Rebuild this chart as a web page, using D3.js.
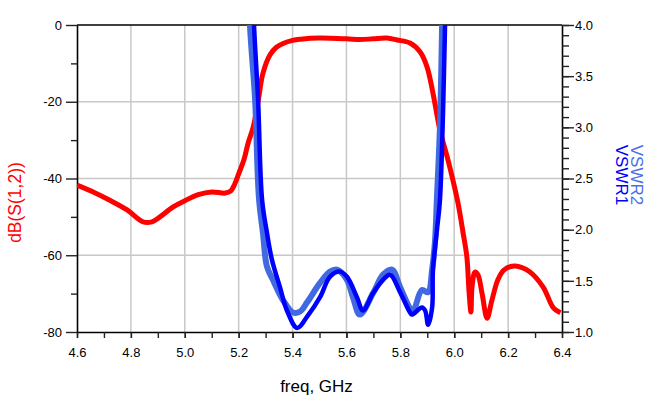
<!DOCTYPE html>
<html>
<head>
<meta charset="utf-8">
<script src="https://cdn.jsdelivr.net/npm/d3@7"></script>
<style>
  body { margin: 0; background: #fff; }
  svg { font-family: "Liberation Sans", Arial, sans-serif; }
</style>
</head>
<body>
<div id="chart"></div>
<script>
// dB(S(1,2))
var s12Freq = [4.60, 4.66, 4.72, 4.786, 4.845, 4.878, 4.908, 4.957, 5.00, 5.05, 5.10, 5.15, 5.17, 5.185, 5.20, 5.22, 5.235, 5.254, 5.273, 5.29, 5.316, 5.34, 5.365, 5.40, 5.43, 5.50, 5.60, 5.65, 5.70, 5.75, 5.788, 5.836, 5.873, 5.899, 5.921, 5.947, 5.977, 5.995, 6.014, 6.033, 6.047, 6.055, 6.062, 6.066, 6.077, 6.088, 6.103, 6.122, 6.14, 6.162, 6.185, 6.226, 6.28, 6.33, 6.368, 6.394];
var s12dB = [-41.7, -43.5, -45.6, -48.2, -51.3, -51.3, -50.0, -47.4, -45.8, -44.2, -43.5, -43.8, -43.3, -41.5, -38.8, -35.0, -30.8, -26.6, -19.5, -12.6, -7.8, -5.8, -4.8, -4.0, -3.7, -3.4, -3.6, -3.8, -3.6, -3.4, -3.9, -4.7, -7.0, -10.9, -17.7, -27.4, -35.2, -40.4, -46.4, -54.2, -60.5, -69.5, -74.8, -68.3, -64.4, -65.1, -69.8, -76.4, -71.7, -66.4, -63.8, -62.8, -64.3, -68.3, -73.7, -75.0];

// VSWR1
var vswr1Freq = [5.245, 5.257, 5.272, 5.287, 5.305, 5.324, 5.353, 5.379, 5.417, 5.454, 5.502, 5.539, 5.576, 5.602, 5.639, 5.661, 5.699, 5.736, 5.762, 5.799, 5.836, 5.843, 5.880, 5.892, 5.903, 5.918, 5.921, 5.936, 5.947, 5.966, 5.972];
var vswr1 = [5.0, 4.00, 3.27, 2.29, 1.97, 1.70, 1.44, 1.21, 1.04, 1.15, 1.34, 1.54, 1.59, 1.54, 1.34, 1.21, 1.38, 1.51, 1.56, 1.39, 1.19, 1.17, 1.24, 1.21, 1.07, 1.24, 1.60, 2.00, 2.29, 4.00, 5.0];

// VSWR2
var vswr2Freq = [5.232, 5.242, 5.261, 5.275, 5.290, 5.305, 5.327, 5.365, 5.402, 5.428, 5.454, 5.502, 5.539, 5.565, 5.602, 5.624, 5.650, 5.699, 5.736, 5.769, 5.799, 5.836, 5.847, 5.880, 5.903, 5.918, 5.929, 5.936, 5.947, 5.955, 5.960];
var vswr2 = [5.0, 4.00, 3.27, 2.32, 1.97, 1.64, 1.51, 1.31, 1.19, 1.20, 1.29, 1.48, 1.59, 1.61, 1.51, 1.34, 1.17, 1.38, 1.56, 1.61, 1.44, 1.23, 1.20, 1.41, 1.39, 1.61, 1.90, 2.32, 3.00, 4.00, 5.0];

var freqTicks = [4.6, 4.8, 5.0, 5.2, 5.4, 5.6, 5.8, 6.0, 6.2, 6.4];
var dBTicks = [0, -20, -40, -60, -80];
var vswrTicks = [4.0, 3.5, 3.0, 2.5, 2.0, 1.5, 1.0];

var margin = {top: 25, right: 97, bottom: 68, left: 77},
    width = 659 - margin.left - margin.right,
    height = 400 - margin.top - margin.bottom;

var svg = d3.select("#chart")
  .append("svg")
    .attr("width", 659)
    .attr("height", 400)
  .append("g")
    .attr("transform", "translate(" + margin.left + "," + margin.top + ")");

var x = d3.scaleLinear().domain([4.6, 6.4]).range([0, width]);
var yL = d3.scaleLinear().domain([-80, 0]).range([height, 0]);
var yR = d3.scaleLinear().domain([1, 4]).range([height, 0]);

// grid
svg.append("g")
  .selectAll("line.vg")
  .data(freqTicks.slice(1, -1))
  .enter().append("line")
    .attr("x1", function(d) { return x(d); })
    .attr("x2", function(d) { return x(d); })
    .attr("y1", 0).attr("y2", height)
    .attr("stroke", "#c8c8c8").attr("stroke-width", 1.5);
svg.append("g")
  .selectAll("line.hg")
  .data(dBTicks.slice(1, -1))
  .enter().append("line")
    .attr("x1", 0).attr("x2", width)
    .attr("y1", function(d) { return yL(d); })
    .attr("y2", function(d) { return yL(d); })
    .attr("stroke", "#c8c8c8").attr("stroke-width", 1.5);

// axes
function styleAxis(g) {
  g.select(".domain").attr("stroke", "#000").attr("stroke-width", 1.6);
  g.selectAll(".tick line").attr("stroke", "#222").attr("stroke-width", 1.4);
  g.selectAll(".tick text").attr("fill", "#000").style("font-size", "13px")
    .style("font-family", '"Liberation Sans", Arial, sans-serif');
}

// bottom: minor every 0.1
svg.append("g")
  .attr("transform", "translate(0," + height + ")")
  .call(d3.axisBottom(x).tickValues(d3.range(4.6, 6.45, 0.1)).tickSize(6).tickSizeOuter(0).tickFormat(""))
  .call(styleAxis);
svg.append("g")
  .attr("transform", "translate(0," + height + ")")
  .call(d3.axisBottom(x).tickValues(freqTicks).tickSize(6).tickPadding(10).tickSizeOuter(0).tickFormat(function(d) { return d.toFixed(1); }))
  .call(styleAxis)
  .call(function(g) { g.select(".domain").remove(); });

// left
svg.append("g")
  .call(d3.axisLeft(yL).tickValues([-70, -50, -30, -10]).tickSize(6).tickSizeOuter(0).tickFormat(""))
  .call(styleAxis);
svg.append("g")
  .call(d3.axisLeft(yL).tickValues(dBTicks).tickSize(11).tickPadding(4).tickSizeOuter(0).tickFormat(function(d) { return String(d); }))
  .call(styleAxis)
  .call(function(g) { g.select(".domain").remove(); });

// right
svg.append("g")
  .attr("transform", "translate(" + width + ",0)")
  .call(d3.axisRight(yR).tickValues(d3.range(1, 4.05, 0.1)).tickSize(7).tickSizeOuter(0).tickFormat(""))
  .call(styleAxis);
svg.append("g")
  .attr("transform", "translate(" + width + ",0)")
  .call(d3.axisRight(yR).tickValues(vswrTicks).tickSize(12).tickPadding(1).tickSizeOuter(0).tickFormat(function(d) { return d.toFixed(1); }))
  .call(styleAxis)
  .call(function(g) { g.select(".domain").remove(); });

// top border
svg.append("line")
  .attr("x1", 0).attr("x2", width).attr("y1", 0).attr("y2", 0)
  .attr("stroke", "#000").attr("stroke-width", 1.6);

// curves
svg.append("clipPath").attr("id", "plotclip")
  .append("rect").attr("x", 0).attr("y", 0).attr("width", width).attr("height", height);

var plot = svg.append("g").attr("clip-path", "url(#plotclip)");

var lineL = d3.line()
  .x(function(d) { return x(d[0]); })
  .y(function(d) { return yL(d[1]); })
  .curve(d3.curveCatmullRom.alpha(0.5));
var lineR = d3.line()
  .x(function(d) { return x(d[0]); })
  .y(function(d) { return yR(d[1]); })
  .curve(d3.curveCatmullRom.alpha(0.5));

plot.append("path")
  .datum(d3.zip(s12Freq, s12dB))
  .attr("d", lineL)
  .attr("fill", "none").attr("stroke", "#ff0000").attr("stroke-width", 5)
  .attr("stroke-linejoin", "round");
plot.append("path")
  .datum(d3.zip(vswr2Freq, vswr2))
  .attr("d", lineR)
  .attr("fill", "none").attr("stroke", "#4169e1").attr("stroke-width", 6)
  .attr("stroke-linejoin", "round");
plot.append("path")
  .datum(d3.zip(vswr1Freq, vswr1))
  .attr("d", lineR)
  .attr("fill", "none").attr("stroke", "#0000ff").attr("stroke-width", 4.5)
  .attr("stroke-linejoin", "round");

// labels
svg.append("text")
  .attr("x", width / 2 - 3)
  .attr("y", height + 60)
  .attr("text-anchor", "middle")
  .style("font-size", "17px")
  .text("freq, GHz");

svg.append("text")
  .attr("transform", "translate(" + (21 - margin.left) + "," + (height / 2 + 24) + ") rotate(-90)")
  .attr("text-anchor", "middle")
  .attr("fill", "#ff0000")
  .style("font-size", "17.5px")
  .text("dB(S(1,2))");

svg.append("text")
  .attr("transform", "translate(" + (616 - margin.left) + "," + (175 - margin.top) + ") rotate(90)")
  .attr("text-anchor", "middle")
  .attr("fill", "#0000ff")
  .style("font-size", "17px")
  .text("VSWR1");
svg.append("text")
  .attr("transform", "translate(" + (631 - margin.left) + "," + (175 - margin.top) + ") rotate(90)")
  .attr("text-anchor", "middle")
  .attr("fill", "#4a6fe8")
  .style("font-size", "17px")
  .text("VSWR2");
</script>
</body>
</html>
